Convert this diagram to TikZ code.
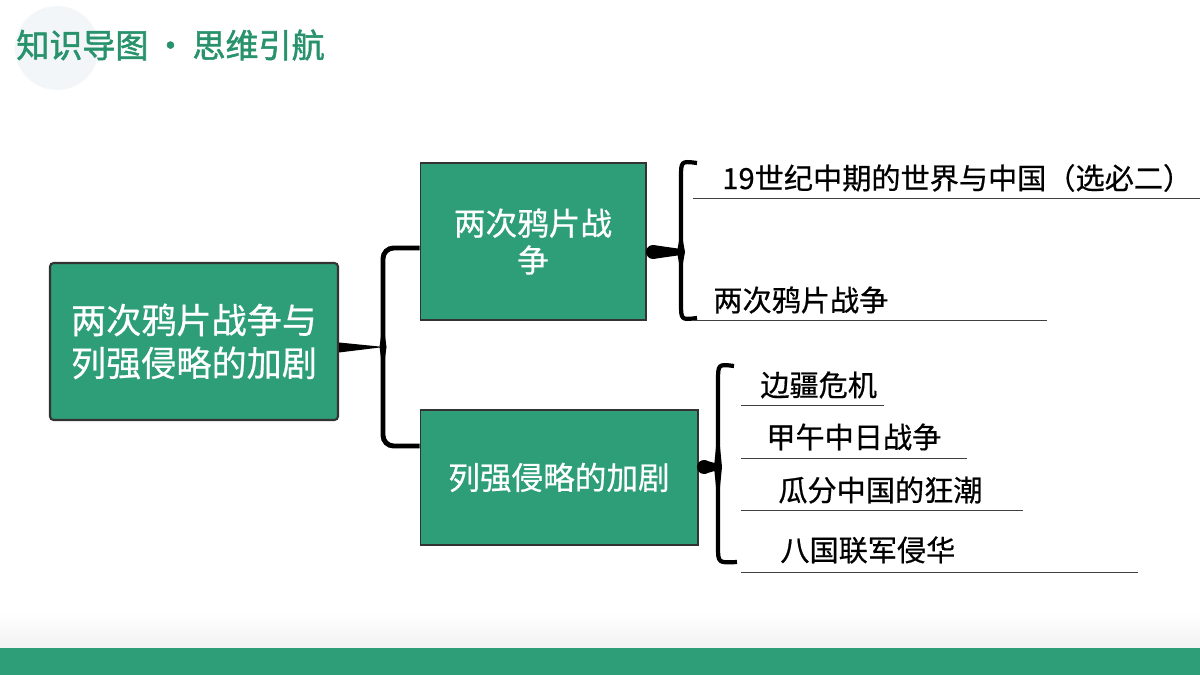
\documentclass[tikz,border=0pt]{standalone}
\usepackage{fontspec}
\setmainfont{Noto Sans CJK SC}
\newfontfamily\hurufTebal[FakeBold=1.6]{Noto Sans CJK SC}
\newfontfamily\hurufIsi[FakeBold=0.6]{Noto Sans CJK SC}
\usetikzlibrary{positioning, calc}
\definecolor{hijauTema}{RGB}{46,158,120}
\definecolor{hijauJudul}{RGB}{40,146,108}
\definecolor{abuLatar}{RGB}{243,246,248}

\begin{document}
\begin{tikzpicture}[x=0.02cm, y=-0.02cm,
  kotak/.style={draw=black!80, line width=0.6pt, fill=hijauTema, text=white, align=center, inner sep=0pt},
  butir/.style={font=\hurufIsi\fontsize{16.6pt}{20pt}\selectfont, inner sep=0pt, anchor=west},
  garis/.style={line width=0.5pt, black!75},
  kurung/.style={line width=2.8pt, rounded corners=6pt},
  kurawal/.style={line width=2.4pt},
]
  \useasboundingbox (0,0) rectangle (1200,675);
  \fill[abuLatar] (57,48) circle (42);
  \node[font=\hurufTebal\fontsize{18.8pt}{22pt}\selectfont, text=hijauJudul, anchor=west, inner sep=0pt] (judul) at (16,45) {知识导图\,·\,思维引航};
  \shade[top color=white, bottom color=black!5] (0,612) rectangle (1200,648);
  \fill[hijauTema] (0,648) rectangle (1200,675);

  \node[kotak, line width=1.2pt, rounded corners=2pt, minimum width=5.76cm, minimum height=3.14cm,
        font=\hurufIsi\fontsize{20pt}{24.4pt}\selectfont] (utama) at (194,341.5) {两次鸦片战争与\\列强侵略的加剧};
  \node[kotak, minimum width=4.52cm, minimum height=3.14cm,
        font=\hurufIsi\fontsize{18pt}{21pt}\selectfont] (dua) at (533,241.5) {两次鸦片战\\争};
  \node[kotak, minimum width=5.56cm, minimum height=2.7cm,
        font=\hurufIsi\fontsize{18pt}{21pt}\selectfont] (tiga) at (559,477.5) {列强侵略的加剧};

  \coordinate (pusat1) at (383,347);
  \draw[kurung] ($(dua.west)+(0,6.5)$) -| (pusat1) |- ($(tiga.west)+(0,-31.5)$);
  \fill ($(utama.east)+(0,1)$) -- ($(pusat1)+(1,0)$) -- ($(utama.east)+(0,11)$) -- cycle;
  \fill ($(pusat1)+(0,-25)$) -- ($(pusat1)+(3.5,0)$) -- ($(pusat1)+(0,25)$) -- ($(pusat1)+(-3.5,0)$) -- cycle;

  \coordinate (ujung2) at (653,252);
  \draw[kurawal] (697,163) .. controls (681,161) .. (681,178) -- (681,303) .. controls (681,320) .. (697,318);
  \fill ($(ujung2)+(28,-22)$) -- ($(ujung2)+(32,0)$) -- ($(ujung2)+(28,22)$) -- ($(ujung2)+(24,0)$) -- cycle;
  \fill (ujung2) circle (7);
  \fill ($(ujung2)+(0,-7)$) -- ($(ujung2)+(28,-3)$) -- ($(ujung2)+(28,3)$) -- ($(ujung2)+(0,7)$) -- cycle;

  \coordinate (ujung3) at (704,467);
  \draw[kurawal] (734,366) .. controls (718,364) .. (718,382) -- (718,546) .. controls (718,563) .. (737,562);
  \fill ($(ujung3)+(14,-40)$) -- ($(ujung3)+(18,0)$) -- ($(ujung3)+(14,40)$) -- ($(ujung3)+(10,0)$) -- cycle;
  \fill (ujung3) circle (7);
  \fill ($(ujung3)+(0,-7)$) -- ($(ujung3)+(14,-3)$) -- ($(ujung3)+(14,3)$) -- ($(ujung3)+(0,7)$) -- cycle;

  \node[butir] (b1) at (722,178) {19世纪中期的世界与中国（选必二）};
  \node[butir] (b2) at (713,300) {两次鸦片战争};
  \node[butir] (b3) at (760,385) {边疆危机};
  \node[butir] (b4) at (766,437) {甲午中日战争};
  \node[butir] (b5) at (778,490) {瓜分中国的狂潮};
  \node[butir] (b6) at (780,550) {八国联军侵华};

  \draw[garis] (693,198) -- (1200,198);
  \draw[garis] (693,320) -- (1047,320);
  \draw[garis] (741,405) -- (884,405);
  \draw[garis] (741,458) -- (967,458);
  \draw[garis] (741,510) -- (1023,510);
  \draw[garis] (741,572) -- (1138,572);
\end{tikzpicture}
\end{document}
